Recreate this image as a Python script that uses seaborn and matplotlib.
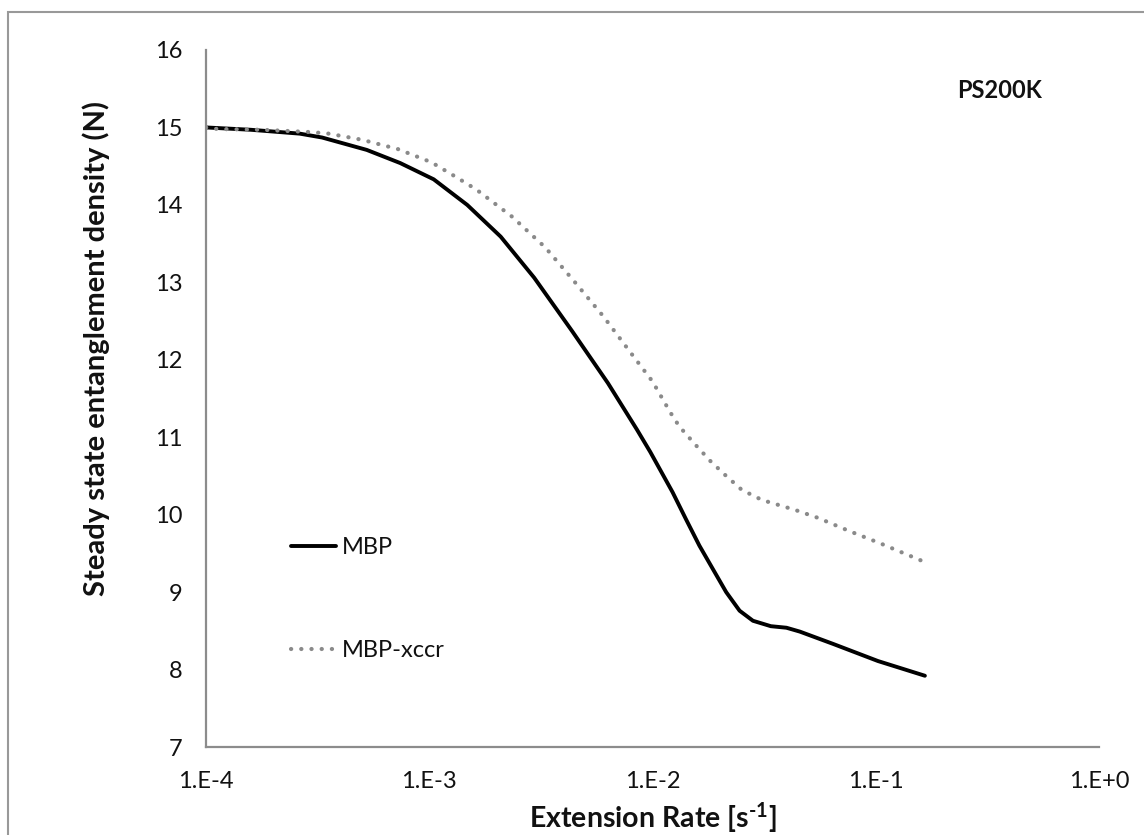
import matplotlib
matplotlib.use("Agg")
import matplotlib.pyplot as plt
import seaborn as sns
import numpy as np
import pandas as pd
from matplotlib.ticker import FixedLocator, FuncFormatter, MultipleLocator, LogLocator, NullFormatter
from matplotlib.patches import Rectangle

# ---------------- data ----------------
mbp_rate = [1.000e-4, 1.585e-4, 2.630e-4, 3.311e-4, 5.248e-4, 7.413e-4, 1.047e-3,
            1.479e-3, 2.089e-3, 2.951e-3, 4.365e-3, 6.310e-3, 8.511e-3, 9.772e-3,
            1.230e-2, 1.413e-2, 1.622e-2, 1.862e-2, 2.138e-2, 2.455e-2, 2.818e-2,
            3.388e-2, 3.981e-2, 4.571e-2, 6.457e-2, 1.023e-1, 1.660e-1]
mbp_N = [15.00, 14.97, 14.92, 14.87, 14.71, 14.54, 14.33,
         14.00, 13.59, 13.06, 12.37, 11.70, 11.10, 10.81,
         10.29, 9.94, 9.60, 9.30, 9.00, 8.76, 8.63,
         8.56, 8.54, 8.49, 8.33, 8.11, 7.92]

xccr_rate = [1.000e-4, 1.122e-4, 1.778e-4, 2.951e-4, 3.548e-4, 5.012e-4, 7.244e-4,
             1.023e-3, 1.318e-3, 1.622e-3, 2.344e-3, 3.311e-3, 4.467e-3, 6.026e-3,
             7.943e-3, 1.000e-2, 1.202e-2, 1.318e-2, 1.549e-2, 1.820e-2, 2.138e-2,
             2.512e-2, 3.090e-2, 4.365e-2, 5.495e-2, 7.586e-2, 1.047e-1, 1.622e-1]
xccr_N = [15.00, 14.98, 14.97, 14.94, 14.92, 14.84, 14.72,
          14.55, 14.36, 14.20, 13.85, 13.45, 13.01, 12.56,
          12.10, 11.72, 11.32, 11.14, 10.91, 10.69, 10.50,
          10.32, 10.19, 10.06, 9.96, 9.79, 9.63, 9.40]

series_labels = ["MBP", "MBP-xccr"]
x_tick_values = [1e-4, 1e-3, 1e-2, 1e-1, 1e0]
x_tick_labels = ["1.E-4", "1.E-3", "1.E-2", "1.E-1", "1.E+0"]
y_ticks = [7, 8, 9, 10, 11, 12, 13, 14, 15, 16]

# ---------------- style ----------------
sns.set_style("white")
FONT = "Lato"
plt.rcParams["font.family"] = [FONT, "DejaVu Sans"]
plt.rcParams["mathtext.fontset"] = "custom"
plt.rcParams["mathtext.rm"] = FONT + ":bold"
plt.rcParams["mathtext.bf"] = FONT + ":bold"
plt.rcParams["mathtext.default"] = "regular"

W, H = 1144, 835
fig = plt.figure(figsize=(W / 100, H / 100), dpi=100)
ax = fig.add_axes([206 / W, 1 - 747 / H, (1099 - 206) / W, (747 - 50) / H])

sns.lineplot(x=mbp_rate, y=mbp_N, ax=ax, color="black", lw=2.8,
             sort=False, label=series_labels[0], solid_capstyle="round",
             solid_joinstyle="round")
sns.lineplot(x=xccr_rate, y=xccr_N, ax=ax, color="#8a8a8a", lw=3.0,
             sort=False, label=series_labels[1],
             linestyle=(0, (0.05, 2.4)), dash_capstyle="round")

ax.set_xscale("log")
ax.set_xlim(1e-4, 1e0)
ax.set_ylim(7, 16)

ax.xaxis.set_major_locator(FixedLocator(x_tick_values))
ax.xaxis.set_major_formatter(FuncFormatter(
    lambda v, p: x_tick_labels[x_tick_values.index(v)] if v in x_tick_values else ""))
ax.xaxis.set_minor_locator(LogLocator(base=10, subs=np.arange(2, 10)))
ax.xaxis.set_minor_formatter(NullFormatter())
ax.yaxis.set_major_locator(FixedLocator(y_ticks))
ax.yaxis.set_minor_locator(MultipleLocator(0.2))

axis_col = "#8c8c8c"
for s in ["top", "right"]:
    ax.spines[s].set_visible(False)
for s in ["left", "bottom"]:
    ax.spines[s].set_color(axis_col)
    ax.spines[s].set_linewidth(1.6)

ax.tick_params(axis="both", which="both", direction="in", color=axis_col, width=1.4)
ax.tick_params(axis="both", which="major", length=5.5, labelsize=17, labelcolor="#111111")
ax.tick_params(axis="both", which="minor", length=4)
ax.tick_params(axis="x", which="major", pad=17)
ax.tick_params(axis="y", which="major", pad=17)

ax.set_xlabel("Extension Rate [s$^{\\text{-1}}$]", fontsize=20.5, fontweight="bold", color="#111111")
ax.set_ylabel("Steady state entanglement density (N)", fontsize=21, fontweight="bold", color="#111111")
ax.xaxis.set_label_coords(0.5, -0.076)
ax.yaxis.set_label_coords(-0.108, 0.572)

leg = ax.legend(loc="upper left", bbox_to_anchor=(279 / W, 1 - 525 / H),
                bbox_transform=fig.transFigure, frameon=False, fontsize=17,
                handlelength=1.9, handletextpad=0.25, labelspacing=3.5, borderpad=0)
for t in leg.get_texts():
    t.set_color("#111111")

fig.text(1042 / W, 1 - 91 / H, "PS200K", ha="right", va="center",
         fontsize=17, fontweight="bold", color="#111111")

fig.patches.append(Rectangle((8 / W, -0.05), 1.2, 1 - 12 / H + 0.05,
                             transform=fig.transFigure, fill=False,
                             edgecolor="#999999", lw=1.5))

fig.savefig("out.png", dpi=100, facecolor="white")
